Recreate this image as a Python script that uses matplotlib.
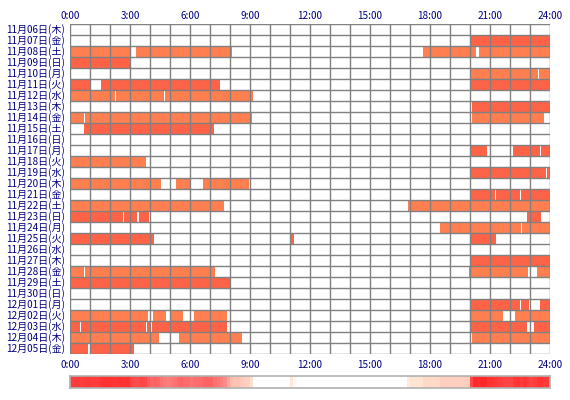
import numpy as np
import matplotlib
matplotlib.use("Agg")
import matplotlib.pyplot as plt
from matplotlib.colors import LinearSegmentedColormap

plt.rcParams['font.family'] = ['Noto Sans CJK JP', 'DejaVu Sans']

# row labels (top to bottom)
days = ['11月06日(木)', '11月07日(金)', '11月08日(土)', '11月09日(日)', '11月10日(月)',
        '11月11日(火)', '11月12日(水)', '11月13日(木)', '11月14日(金)', '11月15日(土)',
        '11月16日(日)', '11月17日(月)', '11月18日(火)', '11月19日(水)', '11月20日(木)',
        '11月21日(金)', '11月22日(土)', '11月23日(日)', '11月24日(月)', '11月25日(火)',
        '11月26日(水)', '11月27日(木)', '11月28日(金)', '11月29日(土)', '11月30日(日)',
        '12月01日(月)', '12月02日(火)', '12月03日(水)', '12月04日(木)', '12月05日(金)']

# sleep intervals per day, hours (start, end)
sleep = [
    [],
    [(20.0, 24.0)],
    [(0.0, 3.0), (3.3, 8.08), (17.65, 20.3), (20.45, 24.0)],
    [(0.0, 3.0)],
    [(20.03, 23.42), (23.47, 24.0)],
    [(0.0, 1.0), (1.55, 7.48), (20.03, 24.0)],
    [(0.0, 2.25), (2.3, 4.7), (4.75, 9.13)],
    [(20.08, 24.0)],
    [(0.0, 0.7), (0.77, 9.08), (20.08, 23.7)],
    [(0.7, 7.18)],
    [],
    [(20.03, 20.83), (22.15, 23.5), (23.55, 24.0)],
    [(0.0, 3.8)],
    [(20.03, 23.8), (23.85, 24.0)],
    [(0.0, 4.55), (5.3, 6.0), (6.65, 8.95)],
    [(20.03, 21.25), (21.3, 22.5), (22.55, 24.0)],
    [(0.0, 7.68), (16.9, 24.0)],
    [(0.0, 2.65), (2.7, 3.35), (3.45, 3.95), (22.85, 23.55)],
    [(18.5, 22.55), (22.6, 24.0)],
    [(0.0, 4.2), (11.05, 11.2), (20.03, 21.3)],
    [],
    [(20.03, 24.0)],
    [(0.0, 0.7), (0.77, 7.23), (19.95, 22.88), (23.35, 24.0)],
    [(0.0, 8.0)],
    [],
    [(20.03, 22.5), (22.55, 22.93), (23.5, 24.0)],
    [(0.0, 3.9), (4.15, 4.8), (5.05, 5.65), (6.2, 7.85), (20.03, 21.63), (22.25, 24.0)],
    [(0.0, 0.5), (0.55, 3.8), (3.85, 4.0), (4.1, 7.85), (20.03, 22.83), (23.2, 24.0)],
    [(0.0, 4.45), (5.45, 8.6), (20.08, 24.0)],
    [(0.0, 0.9), (1.0, 3.2)],
]

hour_ticks = [0, 3, 6, 9, 12, 15, 18, 21, 24]
hour_labels = ['0:00', '3:00', '6:00', '9:00', '12:00', '15:00', '18:00', '21:00', '24:00']

navy = '#000080'
grid = '#808080'

fig = plt.figure(figsize=(5.7, 4.0), dpi=100)
ax = fig.add_axes([70 / 570, 46 / 400, 480 / 570, 330 / 400])

n = len(days)
for i, segs in enumerate(sleep):
    col = '#ff6347' if i % 2 == 1 else '#ff7f50'
    for s, e in segs:
        ax.barh(i, e - s, left=s, height=1.0, color=col, linewidth=0, zorder=1)

ax.set_xlim(0, 24)
ax.set_ylim(n - 0.5, -0.5)
for h in range(25):
    ax.axvline(h, color=grid, lw=1.0, zorder=3)
for r in range(n + 1):
    ax.axhline(r - 0.5, color=grid, lw=1.0, zorder=3)
for sp in ax.spines.values():
    sp.set_visible(False)
ax.set_xticks([])
ax.set_yticks([])

for i, d in enumerate(days):
    ax.text(-0.25, i, d, ha='right', va='center', fontsize=7.2, color=navy)
for t, lab in zip(hour_ticks, hour_labels):
    ax.text(t, -0.5 - 0.75, lab, ha='center', va='center', fontsize=7.2, color=navy)
    ax.text(t, n - 0.5 + 1.0, lab, ha='center', va='center', fontsize=7.2, color=navy)

# frequency strip: how many days were asleep in each 10-minute bin
edges = np.linspace(0, 24, 145)
counts = np.zeros(144)
for segs in sleep:
    for s, e in segs:
        ov = np.clip(np.minimum(edges[1:], e) - np.maximum(edges[:-1], s), 0, None)
        counts += ov / (edges[1] - edges[0])

cmap = LinearSegmentedColormap.from_list(
    'sleep', [(0, '#ffffff'), (0.04, '#ffe6d6'), (0.2, '#ffc8b8'),
              (0.5, '#ff8080'), (1.0, '#ff2828')])
cax = fig.add_axes([70 / 570, 12 / 400, 480 / 570, 12 / 400])
cax.imshow(counts[np.newaxis, :], aspect='auto', cmap=cmap, vmin=0, vmax=counts.max(),
           extent=(0, 24, 0, 1), interpolation='nearest')
cax.set_xticks([])
cax.set_yticks([])
for sp in cax.spines.values():
    sp.set_color('#b0b0b0')
    sp.set_linewidth(1.2)

fig.savefig('out.png', dpi=100, facecolor='white')
